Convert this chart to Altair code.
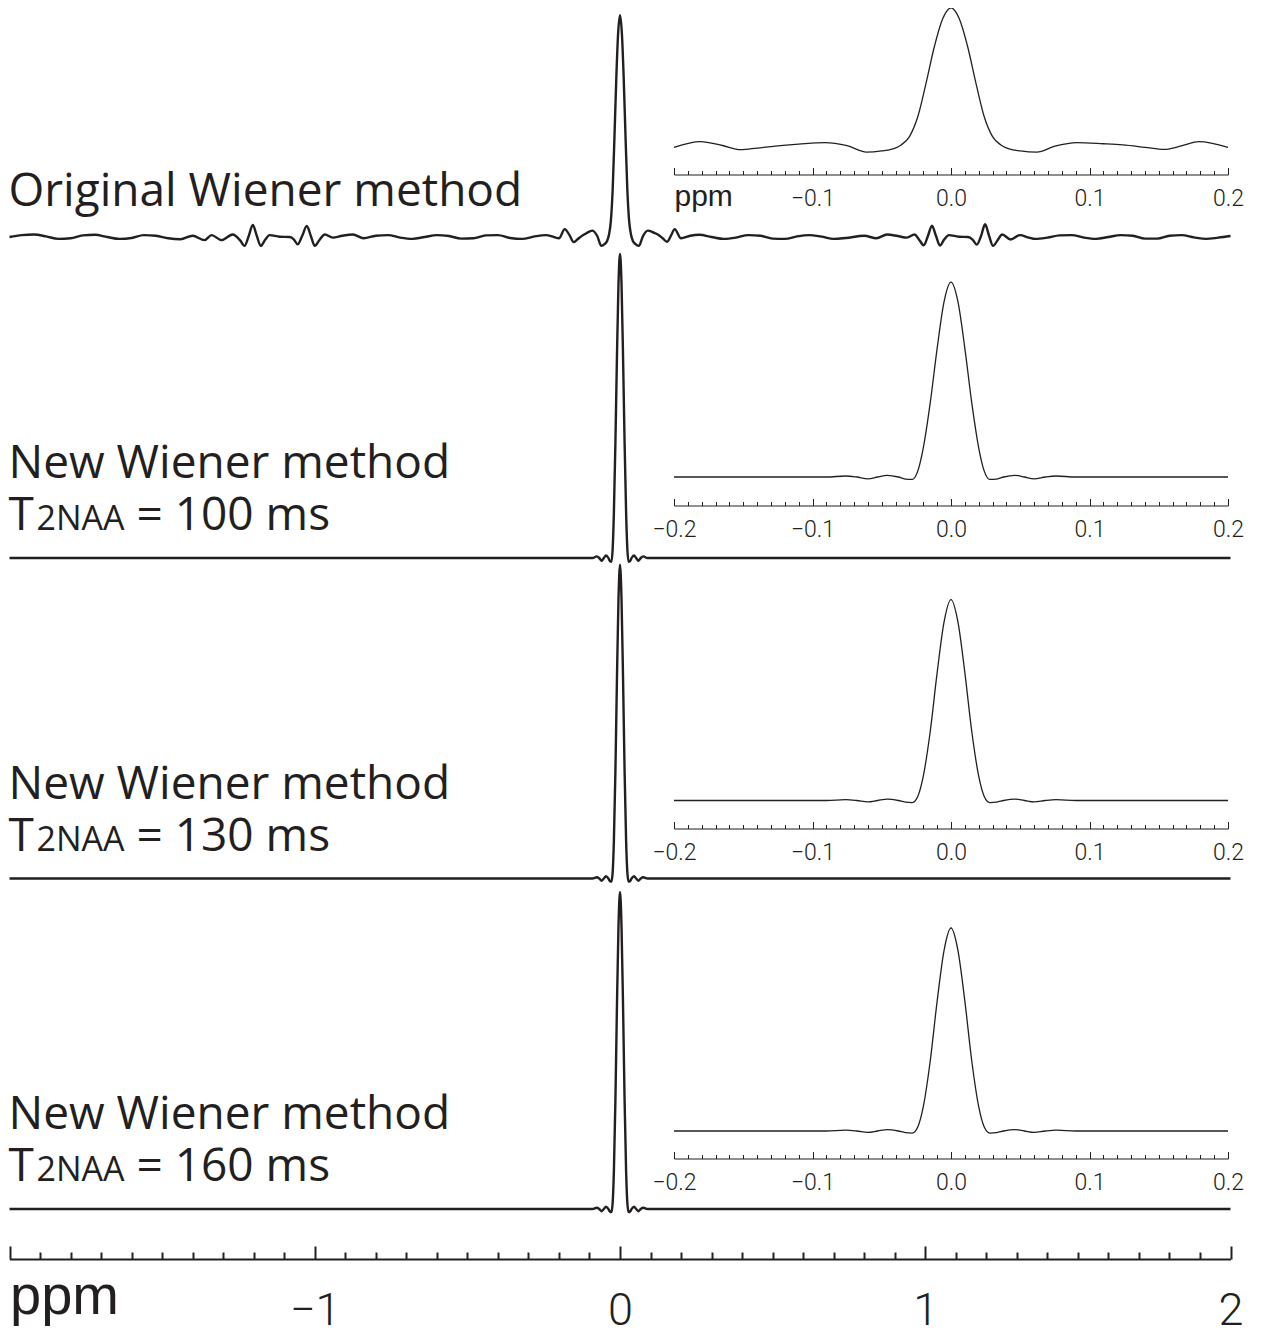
import altair as alt
import pandas as pd

INK = "#231f20"

# ---------------- data ----------------
ORIG_POINTS = [
    (-2.00, 0.000), (-1.96, 0.006), (-1.92, 0.008), (-1.88, 0.002), (-1.84, -0.006),
    (-1.80, -0.004), (-1.76, 0.005), (-1.72, 0.007), (-1.68, 0.000), (-1.64, -0.006),
    (-1.60, -0.003), (-1.56, 0.006), (-1.52, 0.004), (-1.48, -0.004), (-1.44, -0.007),
    (-1.40, 0.004), (-1.361, -0.010), (-1.338, 0.006), (-1.305, -0.010), (-1.269, 0.008),
    (-1.245, -0.010), (-1.23, -0.028), (-1.216, 0.004), (-1.203, 0.038), (-1.19, 0.004),
    (-1.177, -0.028), (-1.162, -0.008), (-1.148, 0.006), (-1.115, 0.001), (-1.082, 0.000),
    (-1.068, -0.008), (-1.056, -0.023), (-1.041, 0.004), (-1.026, 0.035), (-1.013, 0.004),
    (-1.000, -0.028), (-0.985, -0.010), (-0.967, 0.008), (-0.941, -0.002), (-0.91, 0.004),
    (-0.875, 0.008), (-0.84, -0.004), (-0.80, 0.004), (-0.76, 0.006), (-0.72, -0.002),
    (-0.68, -0.006), (-0.64, 0.000), (-0.60, 0.006), (-0.56, 0.003), (-0.52, -0.005),
    (-0.48, -0.004), (-0.44, 0.005), (-0.40, 0.006), (-0.36, -0.003), (-0.32, -0.006),
    (-0.28, 0.002), (-0.24, 0.006), (-0.20, -0.004), (-0.181, 0.025), (-0.165, 0.005),
    (-0.152, -0.016), (-0.14, -0.008), (-0.127, 0.002), (-0.11, 0.012), (-0.091, 0.020),
    (-0.075, 0.004), (-0.061, -0.028), (-0.05, -0.022), (-0.042, -0.012), (-0.036, 0.008),
    (-0.030, 0.050), (-0.024, 0.150), (-0.018, 0.320), (-0.012, 0.505), (-0.006, 0.645),
    (0.000, 0.700), (0.006, 0.645), (0.012, 0.505), (0.018, 0.320), (0.024, 0.150),
    (0.030, 0.050), (0.036, 0.008), (0.042, -0.012), (0.05, -0.022), (0.062, -0.028),
    (0.075, 0.002), (0.091, 0.020), (0.11, 0.014), (0.124, 0.008), (0.14, -0.004),
    (0.154, -0.015), (0.167, 0.004), (0.179, 0.025), (0.20, -0.004), (0.23, 0.004),
    (0.26, 0.007), (0.30, 0.000), (0.34, -0.006), (0.38, -0.002), (0.42, 0.006),
    (0.46, 0.004), (0.50, -0.005), (0.54, -0.006), (0.58, 0.002), (0.62, 0.006),
    (0.66, 0.001), (0.70, -0.006), (0.74, -0.003), (0.80, 0.004), (0.84, -0.004),
    (0.875, 0.008), (0.91, 0.003), (0.94, -0.002), (0.965, 0.008), (0.981, -0.010),
    (0.995, -0.026), (1.009, 0.004), (1.022, 0.036), (1.035, 0.004), (1.048, -0.027),
    (1.062, -0.008), (1.077, 0.006), (1.11, 0.001), (1.14, 0.000), (1.155, -0.008),
    (1.169, -0.024), (1.183, 0.004), (1.196, 0.040), (1.209, 0.004), (1.222, -0.028),
    (1.237, -0.010), (1.252, 0.008), (1.28, -0.008), (1.31, 0.006), (1.34, -0.002),
    (1.36, -0.006), (1.40, -0.002), (1.44, 0.005), (1.48, 0.006), (1.52, -0.002),
    (1.56, -0.006), (1.60, 0.000), (1.64, 0.006), (1.68, 0.004), (1.72, -0.005),
    (1.76, -0.005), (1.80, 0.004), (1.84, 0.006), (1.88, -0.001), (1.92, -0.006),
    (1.96, -0.002), (2.00, 0.003),
]
ORIG_X = [p[0] for p in ORIG_POINTS]
ORIG_Y = [p[1] for p in ORIG_POINTS]

NEW_X = [-2.0, -0.2, -0.1, -0.09, -0.076, -0.068, -0.06, -0.053, -0.046, -0.038,
         -0.033, -0.028, -0.024, -0.02, -0.015, -0.01, -0.005, 0.0, 0.005, 0.01,
         0.015, 0.02, 0.024, 0.028, 0.033, 0.038, 0.046, 0.053, 0.06, 0.068,
         0.076, 0.09, 0.1, 0.2, 2.0]
NEW100_Y = [0, 0, 0, 0, 0.005, 0, -0.009, 0, 0.008, 0,
            -0.010, -0.012, 0.029, 0.144, 0.365, 0.634, 0.864, 0.960, 0.864, 0.634,
            0.365, 0.144, 0.029, -0.012, -0.010, 0, 0.008, 0, -0.009, 0,
            0.005, 0, 0, 0, 0]
NEW130_Y = [0, 0, 0, 0, 0.004, 0, -0.007, 0, 0.007, 0,
            -0.008, -0.010, 0.020, 0.120, 0.340, 0.630, 0.880, 0.990, 0.880, 0.630,
            0.340, 0.120, 0.020, -0.010, -0.008, 0, 0.007, 0, -0.007, 0,
            0.004, 0, 0, 0, 0]
NEW160_Y = [0, 0, 0, 0, 0.004, 0, -0.007, 0, 0.007, 0,
            -0.008, -0.010, 0.020, 0.120, 0.345, 0.640, 0.890, 1.000, 0.890, 0.640,
            0.345, 0.120, 0.020, -0.010, -0.008, 0, 0.007, 0, -0.007, 0,
            0.004, 0, 0, 0, 0]

PANEL_TITLES = ["Original Wiener method", "New Wiener method",
                "New Wiener method", "New Wiener method"]
T2_VALUES = [None, "= 100 ms", "= 130 ms", "= 160 ms"]
MAIN_TICKS = [round(i / 10, 1) for i in range(-20, 21)]
INSET_TICKS = [round(i / 100, 2) for i in range(-20, 21)]

SERIES = [(ORIG_X, ORIG_Y), (NEW_X, NEW100_Y), (NEW_X, NEW130_Y), (NEW_X, NEW160_Y)]

# ---------------- layout (plot pixels) ----------------
W, H = 1250, 1326
MAIN_H = 317
LAYOUT = [
    {"base": 229, "ibase": 138.5, "ih": 198, "iaxis": 166.5},
    {"base": 550, "ibase": 469, "ih": 203, "iaxis": 497.5},
    {"base": 870.5, "ibase": 792.5, "ih": 203, "iaxis": 820.5},
    {"base": 1201, "ibase": 1123, "ih": 203, "iaxis": 1150.5},
]
AXIS_Y = 1251


def main_xs():
    return alt.Scale(domain=[-2, 2], range=[1.5, 1222.5], nice=False, zero=False)


def main_ys(k):
    b = LAYOUT[k]["base"]
    return alt.Scale(domain=[0, 1], range=[b, b - MAIN_H], nice=False, zero=False)


def inset_xs():
    return alt.Scale(domain=[-0.2, 0.2], range=[666, 1220], nice=False, zero=False)


def inset_ys(k):
    b = LAYOUT[k]["ibase"]
    return alt.Scale(domain=[0, 1], range=[b, b - LAYOUT[k]["ih"]], nice=False, zero=False)


MAJOR_MAIN = "abs(datum.value - round(datum.value)) < 0.000001"
MAJOR_INSET = "abs(datum.value * 10 - round(datum.value * 10)) < 0.000001"

main_axis = alt.Axis(
    orient="top", offset=-AXIS_Y, values=MAIN_TICKS, title=None, grid=False,
    domainColor=INK, domainWidth=2, tickColor=INK, tickWidth=2,
    tickSize={"condition": {"test": MAJOR_MAIN, "value": 13}, "value": 7},
    labelExpr=f"{MAJOR_MAIN} ? (datum.value == -2 ? 'ppm' : format(datum.value, 'd')) : ''",
    labelColor=INK,
    labelFont={"condition": {"test": "datum.value == -2", "value": "Liberation Sans"}, "value": "Roboto"},
    labelFontWeight={"condition": {"test": "datum.value == -2", "value": 400}, "value": 300},
    labelFontSize={"condition": {"test": "datum.value == -2", "value": 56}, "value": 45},
    labelAlign={"condition": {"test": "datum.value == -2", "value": "left"}, "value": "center"},
    labelBaseline="alphabetic",
    labelPadding={"condition": {"test": "datum.value == -2", "value": -67}, "value": -78},
    labelFlush=False, labelOverlap=False,
)


def inset_axis(k):
    first = k == 0
    if first:
        expr = f"{MAJOR_INSET} ? (datum.value == -0.2 ? 'ppm' : format(datum.value, '.1f')) : ''"
        ppm_test = "datum.value == -0.2"
    else:
        expr = f"{MAJOR_INSET} ? format(datum.value, '.1f') : ''"
        ppm_test = "false"
    return alt.Axis(
        orient="top", offset=-LAYOUT[k]["iaxis"], values=INSET_TICKS, title=None, grid=False,
        domainColor=INK, domainWidth=1.1, tickColor=INK, tickWidth=1,
        tickSize={"condition": {"test": MAJOR_INSET, "value": 7}, "value": 4},
        labelExpr=expr, labelColor=INK,
        labelFont={"condition": {"test": ppm_test, "value": "Liberation Sans"}, "value": "Roboto"},
        labelFontWeight={"condition": {"test": ppm_test, "value": 400}, "value": 300},
        labelFontSize={"condition": {"test": ppm_test, "value": 30}, "value": 23},
        labelAlign={"condition": {"test": ppm_test, "value": "left"}, "value": "center"},
        labelBaseline="alphabetic",
        labelPadding=-38,
        labelFlush=False, labelOverlap=False,
    )


def label(k, text, size, dx, dy):
    return alt.Chart(pd.DataFrame({"t": [text]})).mark_text(
        align="left", baseline="alphabetic", font="Open Sans", fontSize=size,
        dx=dx, dy=dy, color=INK,
    ).encode(
        x=alt.XDatum(-2, type="quantitative", scale=main_xs(), axis=None),
        y=alt.YDatum(0, type="quantitative", scale=main_ys(k), axis=None),
        text="t:N",
    )


layers = []
for k, (xs, ys) in enumerate(SERIES):
    df = pd.DataFrame({"x": xs, "y": ys})
    layers.append(
        alt.Chart(df).mark_line(color=INK, strokeWidth=2.4, interpolate="monotone").encode(
            x=alt.X("x:Q", scale=main_xs(), axis=main_axis if k == 3 else None),
            y=alt.Y("y:Q", scale=main_ys(k), axis=None),
        )
    )
    layers.append(
        alt.Chart(df).transform_filter("datum.x >= -0.2 && datum.x <= 0.2")
        .mark_line(color=INK, strokeWidth=1.3, interpolate="monotone").encode(
            x=alt.X("x:Q", scale=inset_xs(), axis=inset_axis(k)),
            y=alt.Y("y:Q", scale=inset_ys(k), axis=None),
        )
    )
    if k == 0:
        layers.append(label(k, PANEL_TITLES[k], 46, -1, -31))
    else:
        layers.append(label(k, PANEL_TITLES[k], 46, -1, -80))
        layers.append(label(k, "T", 46, -1, -28))
        layers.append(label(k, "2NAA", 34, 27, -28))
        layers.append(label(k, T2_VALUES[k], 46, 127, -28))

chart = (
    alt.layer(*layers)
    .resolve_scale(x="independent", y="independent")
    .properties(width=W, height=H, padding=0,
                autosize=alt.AutoSizeParams(type="none"))
    .configure_view(stroke=None)
)

chart.save("out.html", embed_options={"renderer": "svg", "actions": False})
